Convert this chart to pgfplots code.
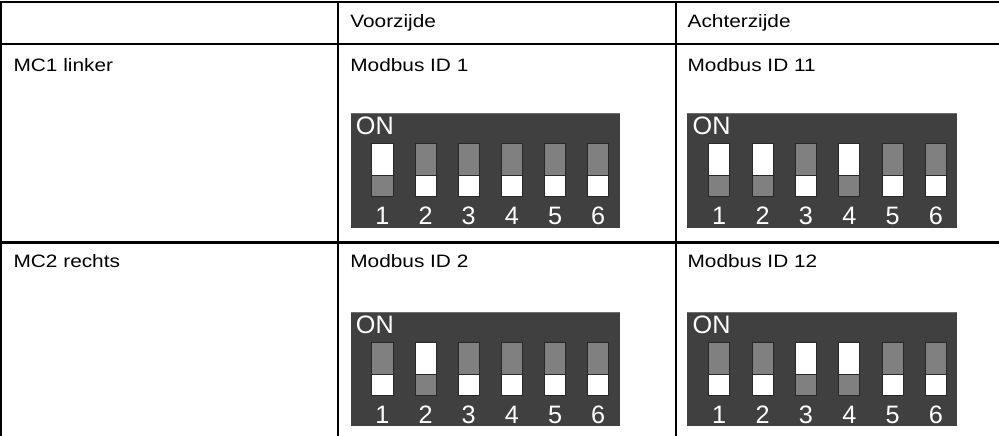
\documentclass[border=0pt]{standalone}
\usepackage{pgfplots}
\pgfplotsset{compat=1.18}
\usepackage{graphicx}
\usepackage{fontspec}
\setmainfont{Liberation Sans}
\definecolor{dipbg}{RGB}{64,64,64}
\definecolor{dipedge}{RGB}{110,110,110}
\definecolor{toggray}{RGB}{128,128,128}
\definecolor{swborder}{RGB}{40,40,40}
% switch in row 1: #1 left x, #2 right x, #3 state (1 = ON)
\newcommand{\swA}[3]{%
  \ifnum#3=1
    \addplot[fill=white,draw=swborder,line width=0.8] coordinates {(#1,151.5) (#2,151.5) (#2,183.3) (#1,183.3)} --cycle;
    \addplot[fill=toggray,draw=swborder,line width=0.8] coordinates {(#1,183.3) (#2,183.3) (#2,204.5) (#1,204.5)} --cycle;
  \else
    \addplot[fill=toggray,draw=swborder,line width=0.8] coordinates {(#1,151.5) (#2,151.5) (#2,183.3) (#1,183.3)} --cycle;
    \addplot[fill=white,draw=swborder,line width=0.8] coordinates {(#1,183.3) (#2,183.3) (#2,204.5) (#1,204.5)} --cycle;
  \fi}
% switch in row 2
\newcommand{\swB}[3]{%
  \ifnum#3=1
    \addplot[fill=white,draw=swborder,line width=0.8] coordinates {(#1,348.5) (#2,348.5) (#2,380.3) (#1,380.3)} --cycle;
    \addplot[fill=toggray,draw=swborder,line width=0.8] coordinates {(#1,380.3) (#2,380.3) (#2,401.5) (#1,401.5)} --cycle;
  \else
    \addplot[fill=toggray,draw=swborder,line width=0.8] coordinates {(#1,348.5) (#2,348.5) (#2,380.3) (#1,380.3)} --cycle;
    \addplot[fill=white,draw=swborder,line width=0.8] coordinates {(#1,380.3) (#2,380.3) (#2,401.5) (#1,401.5)} --cycle;
  \fi}
\newcommand{\dig}[3]{\node[anchor=base,inner sep=0pt,text=white,font=\fontsize{25bp}{29bp}\selectfont] at (axis cs:#1,#2) {#3};}
\newcommand{\tx}[3]{\node[anchor=base west,inner sep=0pt,font=\fontsize{17.8bp}{21bp}\selectfont] at (axis cs:#1,#2) {\scalebox{1.16}[1]{#3}};}
\begin{document}
\begin{tikzpicture}
\begin{axis}[
  width=999bp, height=441bp, scale only axis,
  xmin=0, xmax=999, ymin=0, ymax=441, y dir=reverse,
  hide axis, clip=true,
]
% DIP blocks
\addplot[fill=dipbg,draw=none] coordinates {(356,121.7) (622.7,121.7) (622.7,235) (356,235)} --cycle;
\addplot[fill=dipbg,draw=none] coordinates {(690,121.7) (957.7,121.7) (957.7,235) (690,235)} --cycle;
\addplot[fill=dipbg,draw=none] coordinates {(356,318.7) (622.7,318.7) (622.7,432) (356,432)} --cycle;
\addplot[fill=dipbg,draw=none] coordinates {(690,318.7) (957.7,318.7) (957.7,432) (690,432)} --cycle;
\addplot[dipedge,line width=1] coordinates {(356,122.2) (622.7,122.2)};
\addplot[dipedge,line width=1] coordinates {(690,122.2) (957.7,122.2)};
\addplot[dipedge,line width=1] coordinates {(356,319.2) (622.7,319.2)};
\addplot[dipedge,line width=1] coordinates {(690,319.2) (957.7,319.2)};
% Row 1, Voorzijde: Modbus ID 1
\swA{377}{398}{1}
\swA{419.8}{440.8}{0}
\swA{462.6}{483.6}{0}
\swA{505.4}{526.4}{0}
\swA{548.2}{569.2}{0}
\swA{591}{612}{0}
% Row 1, Achterzijde: Modbus ID 11
\swA{711}{732}{1}
\swA{754}{775}{1}
\swA{797}{818}{0}
\swA{840}{861}{1}
\swA{883}{904}{0}
\swA{926}{947}{0}
% Row 2, Voorzijde: Modbus ID 2
\swB{377}{398}{0}
\swB{419.8}{440.8}{1}
\swB{462.6}{483.6}{0}
\swB{505.4}{526.4}{0}
\swB{548.2}{569.2}{0}
\swB{591}{612}{0}
% Row 2, Achterzijde: Modbus ID 12
\swB{711}{732}{0}
\swB{754}{775}{0}
\swB{797}{818}{1}
\swB{840}{861}{1}
\swB{883}{904}{0}
\swB{926}{947}{0}
% table lines
\addplot[black,line width=2.2] coordinates {(9.3,11.5) (1000,11.5)};
\addplot[black,line width=2.2] coordinates {(9.3,52.8) (1000,52.8)};
\addplot[black,line width=2.2] coordinates {(9.3,249.7) (1000,249.7)};
\addplot[black,line width=2.2] coordinates {(9.3,10.4) (9.3,445)};
\addplot[black,line width=2.2] coordinates {(343.3,10.4) (343.3,445)};
\addplot[black,line width=2.2] coordinates {(678.3,10.4) (678.3,445)};
% ON labels
\node[anchor=base west,inner sep=0pt,text=white,font=\fontsize{25bp}{29bp}\selectfont] at (axis cs:361,142.7) {ON};
\node[anchor=base west,inner sep=0pt,text=white,font=\fontsize{25bp}{29bp}\selectfont] at (axis cs:695,142.7) {ON};
\node[anchor=base west,inner sep=0pt,text=white,font=\fontsize{25bp}{29bp}\selectfont] at (axis cs:361,339.7) {ON};
\node[anchor=base west,inner sep=0pt,text=white,font=\fontsize{25bp}{29bp}\selectfont] at (axis cs:695,339.7) {ON};
% digits
\dig{387.5}{232.3}{1}\dig{430.3}{232.3}{2}\dig{473.1}{232.3}{3}\dig{515.9}{232.3}{4}\dig{558.7}{232.3}{5}\dig{601.5}{232.3}{6}
\dig{721.5}{232.3}{1}\dig{764.5}{232.3}{2}\dig{807.5}{232.3}{3}\dig{850.5}{232.3}{4}\dig{893.5}{232.3}{5}\dig{936.5}{232.3}{6}
\dig{387.5}{429.3}{1}\dig{430.3}{429.3}{2}\dig{473.1}{429.3}{3}\dig{515.9}{429.3}{4}\dig{558.7}{429.3}{5}\dig{601.5}{429.3}{6}
\dig{721.5}{429.3}{1}\dig{764.5}{429.3}{2}\dig{807.5}{429.3}{3}\dig{850.5}{429.3}{4}\dig{893.5}{429.3}{5}\dig{936.5}{429.3}{6}
% table text
\tx{355.5}{37}{Voorzijde}
\tx{690}{37}{Achterzijde}
\tx{21.5}{80.5}{MC1 linker}
\tx{355.5}{80.5}{Modbus ID 1}
\tx{690}{80.5}{Modbus ID 11}
\tx{21.5}{274.5}{MC2 rechts}
\tx{355.5}{274.5}{Modbus ID 2}
\tx{690}{274.5}{Modbus ID 12}
\end{axis}
\end{tikzpicture}
\end{document}
